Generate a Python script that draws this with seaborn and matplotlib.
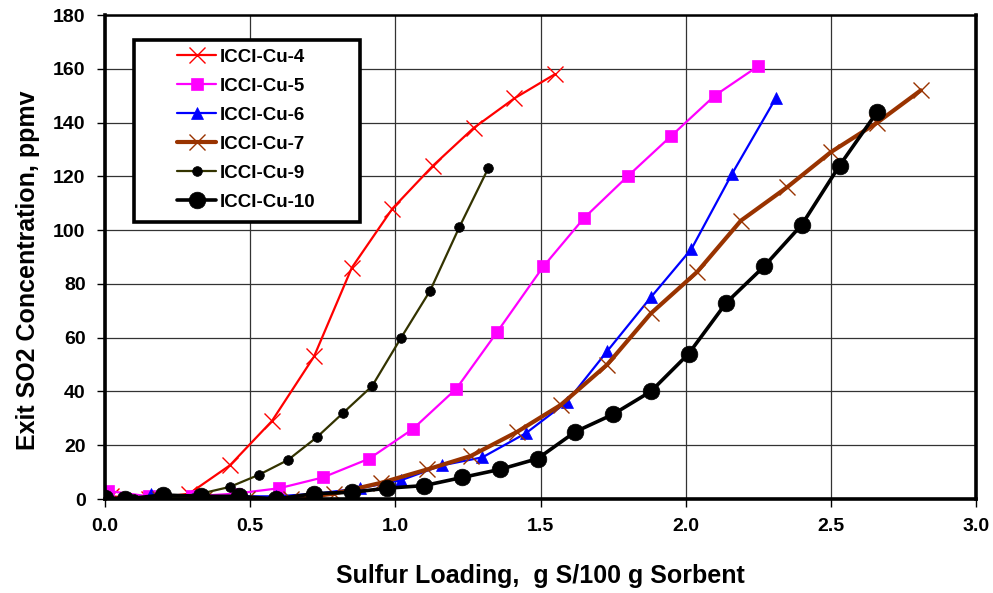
import numpy as np
import pandas as pd
import matplotlib
matplotlib.use("Agg")
import matplotlib.pyplot as plt
from matplotlib.patches import Rectangle
import seaborn as sns

sns.set_style("white")
plt.rcParams['font.family'] = ['Liberation Sans', 'DejaVu Sans']
plt.rcParams.update({
    'font.weight': 'bold',
    'text.color': 'black',
    'axes.labelcolor': 'black',
    'xtick.color': 'black',
    'ytick.color': 'black',
})

# ---- data ----
cu4_x = [0.02, 0.15, 0.29, 0.43, 0.575, 0.72, 0.85, 0.99, 1.13, 1.27, 1.41, 1.55]
cu4_y = [1, 0, 2, 12.5, 29, 53, 86, 108, 124, 138, 149, 158]

cu5_x = [0.01, 0.15, 0.30, 0.45, 0.60, 0.75, 0.91, 1.06, 1.21, 1.35, 1.51, 1.65, 1.80, 1.95, 2.10, 2.25]
cu5_y = [3, 1, 1, 2, 4, 8, 15, 26, 41, 62, 86.5, 104.5, 120, 135, 150, 161]

cu6_x = [0.16, 0.30, 0.45, 0.59, 0.73, 0.88, 1.02, 1.16, 1.30, 1.45, 1.59, 1.73, 1.88, 2.02, 2.16, 2.31]
cu6_y = [2, 0, 1, 1, 2, 4, 7, 12.5, 15.5, 24.5, 36, 55, 75, 93, 121, 149]

cu7_x = [0.19, 0.34, 0.49, 0.64, 0.79, 0.95, 1.11, 1.26, 1.42, 1.57, 1.73, 1.88, 2.04, 2.19, 2.35, 2.50, 2.66, 2.81]
cu7_y = [0, 0, 0, 0, 2, 6, 11, 16, 25, 35, 50, 69, 84.5, 103.5, 116, 129, 140, 152]

cu9_x = [0.0, 0.10, 0.20, 0.33, 0.43, 0.53, 0.63, 0.73, 0.82, 0.92, 1.02, 1.12, 1.22, 1.32]
cu9_y = [0, 0, 0, 2, 4.5, 9, 14.5, 23, 32, 42, 60, 77.5, 101, 123]

cu10_x = [0.0, 0.07, 0.20, 0.33, 0.46, 0.59, 0.72, 0.85, 0.97, 1.10, 1.23, 1.36, 1.49,
          1.62, 1.75, 1.88, 2.01, 2.14, 2.27, 2.40, 2.53, 2.66]
cu10_y = [0.5, 0, 1.5, 1, 1, 0, 2, 2.5, 4, 5, 8, 11, 15, 25, 31.5, 40, 54, 73, 86.5, 102, 124, 144]

series_names = ["ICCI-Cu-4", "ICCI-Cu-5", "ICCI-Cu-6", "ICCI-Cu-7", "ICCI-Cu-9", "ICCI-Cu-10"]
series_x = [cu4_x, cu5_x, cu6_x, cu7_x, cu9_x, cu10_x]
series_y = [cu4_y, cu5_y, cu6_y, cu7_y, cu9_y, cu10_y]

x_ticks = [0.0, 0.5, 1.0, 1.5, 2.0, 2.5, 3.0]
y_ticks = [0, 20, 40, 60, 80, 100, 120, 140, 160, 180]

# style per series: color, line width, marker, marker size, marker edge width
styles = {
    "ICCI-Cu-4": dict(color="#FF0000", lw=1.6, marker="x", ms=11, mew=1.0, mfc="#FF0000"),
    "ICCI-Cu-5": dict(color="#FF00FF", lw=1.6, marker="s", ms=8, mew=0.5, mfc="#FF00FF"),
    "ICCI-Cu-6": dict(color="#0000FF", lw=1.6, marker="^", ms=9, mew=0.5, mfc="#0000FF"),
    "ICCI-Cu-7": dict(color="#993300", lw=3.0, marker="x", ms=11, mew=1.0, mfc="#993300"),
    "ICCI-Cu-9": dict(color="#333300", lw=1.6, marker="o", ms=7, mew=0.5, mfc="#000000", mec="#000000"),
    "ICCI-Cu-10": dict(color="#000000", lw=2.6, marker="o", ms=12, mew=0.5, mfc="#000000"),
}

fig = plt.figure(figsize=(9.93, 5.93), dpi=100)
ax = fig.add_axes([105 / 993, 1 - 499 / 593, 871 / 993, 484 / 593])

for name, xs, ys in zip(series_names, series_x, series_y):
    st = styles[name]
    df = pd.DataFrame({"x": xs, "y": ys})
    sns.lineplot(data=df, x="x", y="y", ax=ax, sort=False, estimator=None,
                 color=st["color"], linewidth=st["lw"], marker=st["marker"],
                 markersize=st["ms"], markeredgewidth=st["mew"],
                 markerfacecolor=st["mfc"], markeredgecolor=st.get("mec", st["color"]),
                 label=name, zorder=3)

ax.set_xlim(0, 3.0)
ax.set_ylim(0, 180)
ax.set_xticks(x_ticks)
ax.set_yticks(y_ticks)
ax.set_xticklabels([f"{t:.1f}" for t in x_ticks], fontsize=14, fontweight="bold")
ax.set_yticklabels([str(t) for t in y_ticks], fontsize=14, fontweight="bold")
ax.tick_params(axis="both", direction="out", length=6, width=1, color="black",
               bottom=True, left=True)
ax.tick_params(axis="x", pad=8)
ax.tick_params(axis="y", pad=8)
ax.grid(True, color="#333333", linewidth=0.9)
ax.set_axisbelow(True)

ax.spines["top"].set_linewidth(1.8)
for side in ["left", "right", "bottom"]:
    ax.spines[side].set_linewidth(2.6)
for sp in ax.spines.values():
    sp.set_color("black")
    sp.set_zorder(5)

ax.set_xlabel("Sulfur Loading,  g S/100 g Sorbent", fontsize=18, fontweight="bold")
ax.set_ylabel("Exit SO2 Concentration, ppmv", fontsize=18, fontweight="bold")
ax.xaxis.set_label_coords(0.5, -0.135)
ax.yaxis.set_label_coords(-0.075, 0.473)

# legend box drawn as a plain rectangle with wide side padding, as in the reference
frame = Rectangle((0.0333, 0.5723), 0.2595, 0.376, transform=ax.transAxes,
                  facecolor="white", edgecolor="black", linewidth=2.6, zorder=6)
ax.add_patch(frame)
leg = ax.legend(loc="upper left", bbox_to_anchor=(0.0827, 0.930), borderaxespad=0,
                borderpad=0, frameon=False, handlelength=2.1, handletextpad=0.16,
                labelspacing=0.63, prop={"size": 13.5, "weight": "bold"})
leg.set_zorder(7)

fig.savefig("out.png", dpi=100)
